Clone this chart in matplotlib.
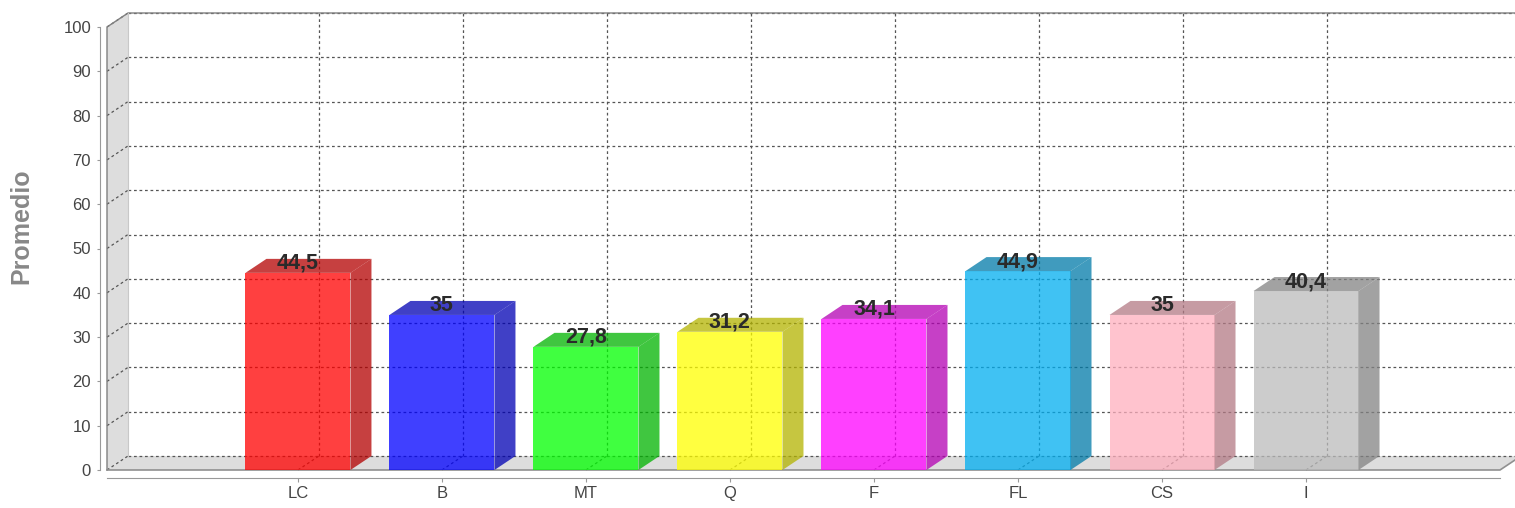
import matplotlib
matplotlib.use("Agg")
import matplotlib.pyplot as plt
from matplotlib.patches import Polygon
import matplotlib.colors as mcolors

plt.rcParams['font.family'] = ['Liberation Sans', 'DejaVu Sans']

categories = ["LC", "B", "MT", "Q", "F", "FL", "CS", "I"]
values = [44.5, 35, 27.8, 31.2, 34.1, 44.9, 35, 40.4]
colors = ["#FF0000", "#0000FF", "#00FF00", "#FFFF00", "#FF00FF", "#00AEF0", "#FFAFBE", "#BBBBBB"]
yticks = list(range(0, 101, 10))
ylabel = "Promedio"

W, H = 1515, 508
fig = plt.figure(figsize=(W / 100, H / 100), dpi=100)
fig.patch.set_facecolor("white")
ax = fig.add_axes([107 / W, (H - 470) / H, 1393 / W, 443 / H])
ax.set_facecolor("none")

x0, x1 = -1.326, 8.347
ax.set_xlim(x0, x1)
ax.set_ylim(0, 100)
dx = 21 / 144.0
dy = 14 / 4.43
bw = 105 / 144.0

grid_kw = dict(color="#555555", lw=0.9, linestyle=(0, (2.2, 2.2)), clip_on=False)

# walls
ax.add_patch(Polygon([(x0, 0), (x0, 100), (x0 + dx, 100 + dy), (x0 + dx, dy)],
                     closed=True, facecolor="#DDDDDD", edgecolor="none", zorder=1, clip_on=False))
ax.add_patch(Polygon([(x0, 0), (x1, 0), (x1 + dx, dy), (x0 + dx, dy)],
                     closed=True, facecolor="#DDDDDD", edgecolor="none", zorder=1, clip_on=False))

# horizontal gridlines
for v in yticks:
    ax.plot([x0 + dx, x1 + dx], [v + dy, v + dy], zorder=2, **grid_kw)
    ax.plot([x0, x0 + dx], [v, v + dy], zorder=2, **grid_kw)
# vertical gridlines
for i in range(len(categories)):
    ax.plot([i + dx, i + dx], [dy, 100 + dy], zorder=2, **grid_kw)
    ax.plot([i, i + dx], [0, dy], zorder=2, **grid_kw)

# outline
ax.plot([x0, x0, x0 + dx, x1 + dx], [0, 100, 100 + dy, 100 + dy], color="#808080", lw=1, zorder=2, clip_on=False)
ax.plot([x0 + dx, x0 + dx], [dy, 100 + dy], color="#C8C8C8", lw=0.8, zorder=2, clip_on=False)
ax.plot([x0, x1, x1 + dx], [0, 0, dy], color="#909090", lw=1.2, zorder=2, clip_on=False)

# bars
for i, (v, c) in enumerate(zip(values, colors)):
    rgb = mcolors.to_rgb(c)
    dark = tuple(ch * 0.7 for ch in rgb)
    l, r = i - bw / 2, i + bw / 2
    ax.add_patch(Polygon([(l, 0), (r, 0), (r, v), (l, v)], closed=True,
                         facecolor=rgb, alpha=0.75, edgecolor="none", zorder=3))
    ax.add_patch(Polygon([(r, 0), (r + dx, dy), (r + dx, v + dy), (r, v)], closed=True,
                         facecolor=dark, alpha=0.75, edgecolor="none", zorder=3))
    ax.add_patch(Polygon([(l, v), (r, v), (r + dx, v + dy), (l + dx, v + dy)], closed=True,
                         facecolor=dark, alpha=0.75, edgecolor="none", zorder=3))
    txt = str(int(v)) if float(v).is_integer() else f"{v:.1f}".replace(".", ",")
    ax.annotate(txt, (i, v), xytext=(0, 2.9), textcoords="offset points",
                ha="center", va="baseline", fontsize=15.5, fontweight="bold",
                color="#2A2A2A", zorder=5)

# axes styling
for s in ["top", "right"]:
    ax.spines[s].set_visible(False)
ax.spines["left"].set_position(("outward", 5.0))
ax.spines["bottom"].set_position(("outward", 5.8))
ax.spines["left"].set_color("#999999")
ax.spines["bottom"].set_color("#999999")
ax.spines["left"].set_bounds(0, 100)
ax.set_yticks(yticks)
ax.set_yticklabels([str(t) for t in yticks])
ax.set_xticks(range(len(categories)))
ax.set_xticklabels(categories)
ax.tick_params(axis="y", length=2.5, width=0.8, color="#999999", pad=4, labelsize=12, labelcolor="#444444")
ax.tick_params(axis="x", length=3, width=0.8, color="#999999", pad=3, labelsize=12, labelcolor="#444444")

fig.text(21 / W, 1 - 226 / H, ylabel, rotation=90, ha="center", va="center",
         fontsize=18, fontweight="bold", color="#888888")

fig.savefig("out.png", dpi=100, facecolor="white")
